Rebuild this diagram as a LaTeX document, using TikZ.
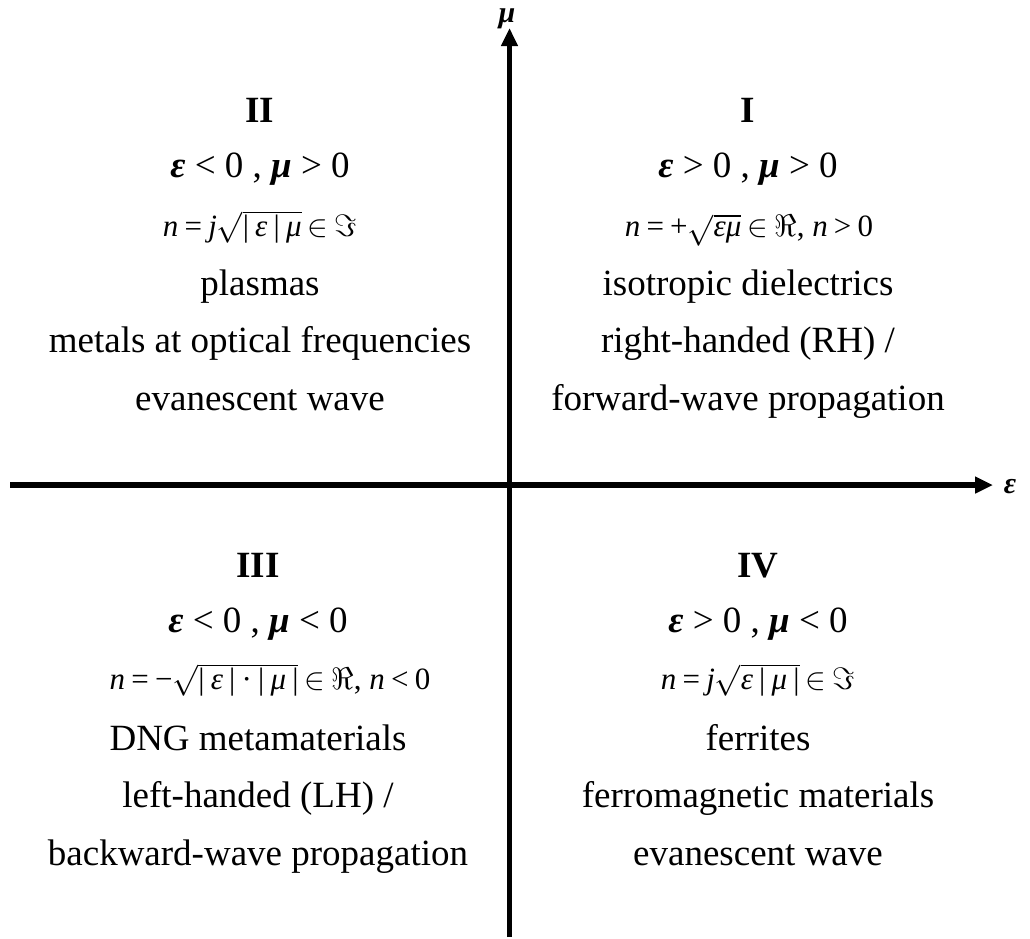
\RequirePackage{fix-cm}
\documentclass[tikz,border=0pt]{standalone}
\usepackage{amsmath}
\usepackage{fontspec}
\setmainfont{Liberation Serif}
\usetikzlibrary{arrows.meta}
\newcommand{\bgr}[1]{{\bfseries\itshape #1}}
\newcommand{\ti}[1]{\textit{#1}}
\newcommand{\tsp}{\hspace{0.2em}}
\newcommand{\rt}[1]{$\sqrt{\text{#1}}$}
\begin{document}
\begin{tikzpicture}[x=1pt,y=-1pt,
  body/.style={anchor=base,inner sep=0pt,font=\fontsize{37}{40}\selectfont},
  hdr/.style={anchor=base,inner sep=0pt,font=\fontsize{37}{40}\selectfont\bfseries},
  frm/.style={anchor=base,inner sep=0pt,font=\fontsize{31}{34}\selectfont},
  axlab/.style={anchor=base,inner sep=0pt,text height=14pt,text depth=5pt,font=\fontsize{30}{34}\selectfont},
  axis/.style={line width=5.5pt,-{Triangle[length=18pt,width=16pt]}}]
\useasboundingbox (0,0) rectangle (1030,938);
\coordinate (xs) at (10,485);
\coordinate (xe) at (993,485);
\coordinate (ys) at (509.5,937);
\coordinate (ye) at (509.5,28);
\draw[axis] (xs) -- (xe);
\draw[axis] (ys) -- (ye);
\node[axlab] (mulab) at (507,22) {\bgr{μ}};
\node[axlab] (eplab) at (1010,493) {\bgr{ε}};
% Quadrant II
\node[hdr] (q2a) at (260,122) {II};
\node[body] (q2b) at (260,177) {\bgr{ε} < 0 , \bgr{μ} > 0};
\node[frm] (q2c) at (260,236) {\ti{n}\tsp=\tsp\ti{j}\rt{|\tsp\ti{ε}\tsp|\tsp\ti{μ}}\tsp$\in$\tsp$\Im$};
\node[body] (q2d) at (260,295) {plasmas};
\node[body] (q2e) at (260,352) {metals at optical frequencies};
\node[body] (q2f) at (260,410) {evanescent wave};
% Quadrant I
\node[hdr] (q1a) at (748,122) {I};
\node[body] (q1b) at (748,177) {\bgr{ε} > 0 , \bgr{μ} > 0};
\node[frm] (q1c) at (749,236) {\ti{n}\tsp=\tsp+\rt{\ti{εμ}}\tsp$\in$\tsp$\Re$, \ti{n}\tsp>\tsp0};
\node[body] (q1d) at (748,295) {isotropic dielectrics};
\node[body] (q1e) at (748,352) {right-handed (RH) /};
\node[body] (q1f) at (748,410) {forward-wave propagation};
% Quadrant III
\node[hdr] (q3a) at (258,577) {III};
\node[body] (q3b) at (258,632) {\bgr{ε} < 0 , \bgr{μ} < 0};
\node[frm] (q3c) at (270,689) {\ti{n}\tsp=\tsp−\rt{|\tsp\ti{ε}\tsp|\tsp·\tsp|\tsp\ti{μ}\tsp|}\tsp$\in$\tsp$\Re$, \ti{n}\tsp<\tsp0};
\node[body] (q3d) at (258,750) {DNG metamaterials};
\node[body] (q3e) at (258,807) {left-handed (LH) /};
\node[body] (q3f) at (258,865) {backward-wave propagation};
% Quadrant IV
\node[hdr] (q4a) at (758,577) {IV};
\node[body] (q4b) at (758,632) {\bgr{ε} > 0 , \bgr{μ} < 0};
\node[frm] (q4c) at (758,689) {\ti{n}\tsp=\tsp\ti{j}\rt{\ti{ε}\tsp|\tsp\ti{μ}\tsp|}\tsp$\in$\tsp$\Im$};
\node[body] (q4d) at (758,750) {ferrites};
\node[body] (q4e) at (758,807) {ferromagnetic materials};
\node[body] (q4f) at (758,865) {evanescent wave};
\end{tikzpicture}
\end{document}
